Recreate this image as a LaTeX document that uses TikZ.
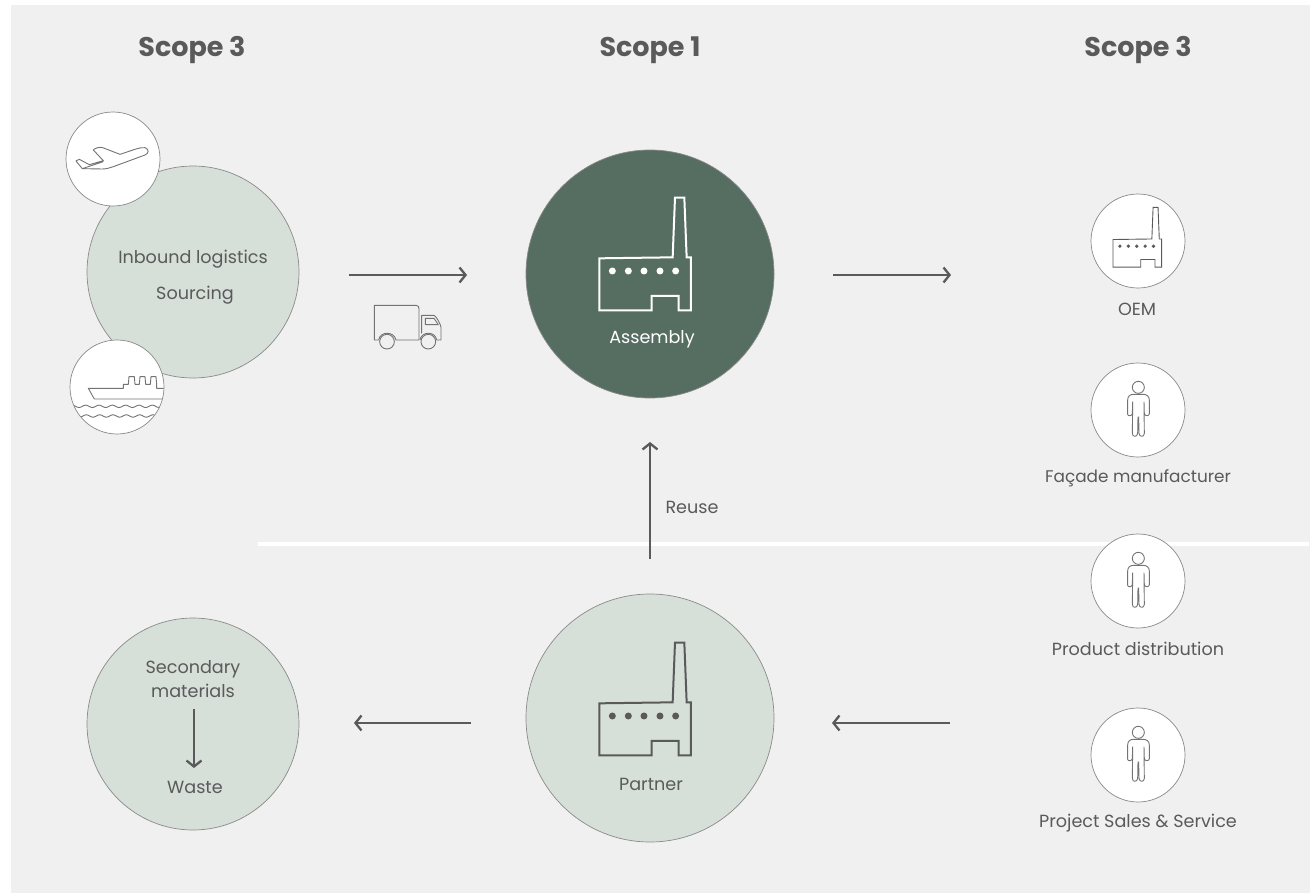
\documentclass[tikz,border=0pt]{standalone}
\usepackage{fontspec}
\setmainfont{Poppins}
\usetikzlibrary{arrows.meta}
\definecolor{bgc}{HTML}{F0F0F0}
\definecolor{lightg}{HTML}{D6DFD8}
\definecolor{darkg}{HTML}{566D62}
\definecolor{ink}{HTML}{5A5A5A}
\definecolor{rim}{HTML}{8A8A8A}
\tikzset{
  ball/.style={circle,draw=rim,line width=.7pt,minimum size=#1,inner sep=0pt},
  iconball/.style={ball=94pt,fill=white},
  heading/.style={font=\fontsize{27}{30}\selectfont\bfseries,text=ink},
  lab/.style={font=\fontsize{17.6}{21}\selectfont,text=ink,inner sep=0pt},
  flow/.style={draw=ink,line width=2.3pt,-{Straight Barb[length=6pt,width=15pt,line width=2.3pt]}},
  icon/.style={draw=ink!85,line width=.9pt,line join=round}
}
% ox oy scale colour linewidth
\newcommand{\factoryicon}[5]{%
  \begin{scope}[shift={(#1,#2)},x=#3*.3333pt,y=-#3*.3333pt]
    \draw[#4,line width=#5,line join=miter] (58,235)--(278,232)--(285,53)--(313,53)--(320,232)--(333,232)--(333,391)--(296,391)--(296,348)--(215,348)--(215,391)--(58,391)--cycle;
    \foreach \wx in {97,145,192,240,287}{\fill[#4] (\wx,273) circle[radius=10.5];}
  \end{scope}}
\newcommand{\personicon}[2]{%
  \begin{scope}[shift={(#1,#2)},x=.3333pt,y=-.3333pt]
    \draw[icon] (175,97) circle[radius=18];
    \draw[icon] (143,178)--(143,135) .. controls (143,124) and (150,118) .. (160,118)--(190,118) .. controls (200,118) and (208,124) .. (208,135)--(208,176) .. controls (208,184) and (194,184) .. (193,176)--(192,140)
      (158,140)--(157,176) .. controls (156,184) and (143,184) .. (143,178)
      (158,150)--(157,235) .. controls (157,247) and (172,247) .. (173,235)--(174,185)
      (176,185)--(177,235) .. controls (178,247) and (193,247) .. (193,235)--(192,150);
  \end{scope}}
\begin{document}
\begin{tikzpicture}[x=1pt,y=-1pt]
\useasboundingbox (0,0) rectangle (1310,894);
\fill[white] (0,0) rectangle (1310,894);
\fill[bgc] (11,5) rectangle (1310,893);
\fill[white] (258,542) rectangle (1309,546);

% headings
\node[heading] (h1) at (192,50) {Scope 3};
\node[heading] (h2) at (650,50) {Scope 1};
\node[heading] (h3) at (1138,50) {Scope 3};

% large circles
\node[ball=212pt,fill=lightg] (inbound) at (193,272) {};
\node[ball=212pt,fill=lightg] (waste) at (193,724) {};
\node[ball=248pt,fill=darkg] (assembly) at (650,274) {};
\node[ball=248pt,fill=lightg] (partner) at (650,718) {};

% icon circles
\node[iconball] (plane) at (113,159) {};
\node[iconball] (ship) at (117,387) {};
\node[iconball] (oem) at (1138,241) {};
\node[iconball] (facade) at (1138,410) {};
\node[iconball] (distrib) at (1138,581) {};
\node[iconball] (sales) at (1138,755) {};

% plane
\begin{scope}[shift={(50,120)},x=.3333pt,y=-.3333pt]
  \draw[icon] (97,146)--(158,147) .. controls (170,147) and (180,143) .. (190,140)--(285,105) .. controls (297,100) and (298,88) .. (285,83) .. controls (270,81) and (250,90) .. (210,103)--(158,83) .. controls (150,80) and (135,84) .. (130,90)--(160,122)--(118,134)--(88,118)--(78,123)--(97,146)--(160,125);
\end{scope}

% ship
\begin{scope}
  \clip (117,387) circle[radius=46.6];
  \begin{scope}[shift={(55,330)},x=.3333pt,y=-.3333pt]
    \draw[icon] (335,207)--(118,207)--(100,175)--(205,175)--(205,163)--(220,163)--(222,140)--(238,140)--(240,163)--(253,163)--(255,140)--(270,140)--(272,163)--(286,163)--(288,140)--(303,140)--(305,163)--(305,175)--(335,175);
    \draw[icon] plot[domain=55:325,samples=90,smooth] (\x,{229+3.5*sin(9*(\x-62))});
    \draw[icon] plot[domain=55:325,samples=90,smooth] (\x,{258+3.5*sin(9*(\x-64))});
  \end{scope}
\end{scope}

% truck
\begin{scope}[shift={(340,250)},x=.3333pt,y=-.3333pt]
  \draw[icon] (116,270)--(103,270)--(103,166)--(228,166) .. controls (234,166) and (237,170) .. (237,176)--(237,270)--(168,270);
  \draw[icon] (141,275) circle[radius=22];
  \draw[icon] (116,270) .. controls (120,243) and (162,243) .. (168,270);
  \draw[icon] (245,250)--(245,196)--(282,196) .. controls (288,198) and (302,222) .. (303,232)--(303,270)--(290,270);
  \draw[icon] (256,205)--(282,205)--(295,224)--(256,224)--cycle;
  \draw[icon] (265,275) circle[radius=22];
  \draw[icon] (240,270) .. controls (244,243) and (286,243) .. (290,270);
\end{scope}

% factories
\factoryicon{580}{180}{1}{white}{2pt}
\factoryicon{580}{625}{1}{ink}{2pt}
\factoryicon{1102.75}{198}{.53}{ink}{.9pt}

% people
\personicon{1080}{355}
\personicon{1080}{526}
\personicon{1080}{700}

% labels
\node[lab] (l1) at (193,259) {Inbound logistics};
\node[lab] (l2) at (195,295) {Sourcing};
\node[lab,text=white] (l3) at (652,339) {Assembly};
\node[lab] (l4) at (692,507) {Reuse};
\node[lab] (l5) at (1137,309) {OEM};
\node[lab,font=\fontsize{16.9}{21}\selectfont] (l6) at (1138,478) {Façade manufacturer};
\node[lab] (l7) at (1138,649) {Product distribution};
\node[lab] (l8) at (1138,823) {Project Sales \& Service};
\node[lab] (l9) at (193,669) {Secondary};
\node[lab] (l10) at (193,691) {materials};
\node[lab] (l11) at (195,787) {Waste};
\node[lab] (l12) at (651,784) {Partner};

% free ends of the connectors
\coordinate (a1s) at (349,275); \coordinate (a1e) at (467,275);
\coordinate (a2s) at (833,275); \coordinate (a2e) at (951,275);
\coordinate (a3s) at (650,559); \coordinate (a3e) at (650,442);
\coordinate (a4s) at (950,723); \coordinate (a4e) at (832,723);
\coordinate (a5s) at (471,723); \coordinate (a5e) at (354,723);
\coordinate (a6s) at (194,709); \coordinate (a6e) at (194,768);
\draw[flow] (a1s)--(a1e);
\draw[flow] (a2s)--(a2e);
\draw[flow] (a3s)--(a3e);
\draw[flow] (a4s)--(a4e);
\draw[flow] (a5s)--(a5e);
\draw[flow] (a6s)--(a6e);
\end{tikzpicture}
\end{document}
